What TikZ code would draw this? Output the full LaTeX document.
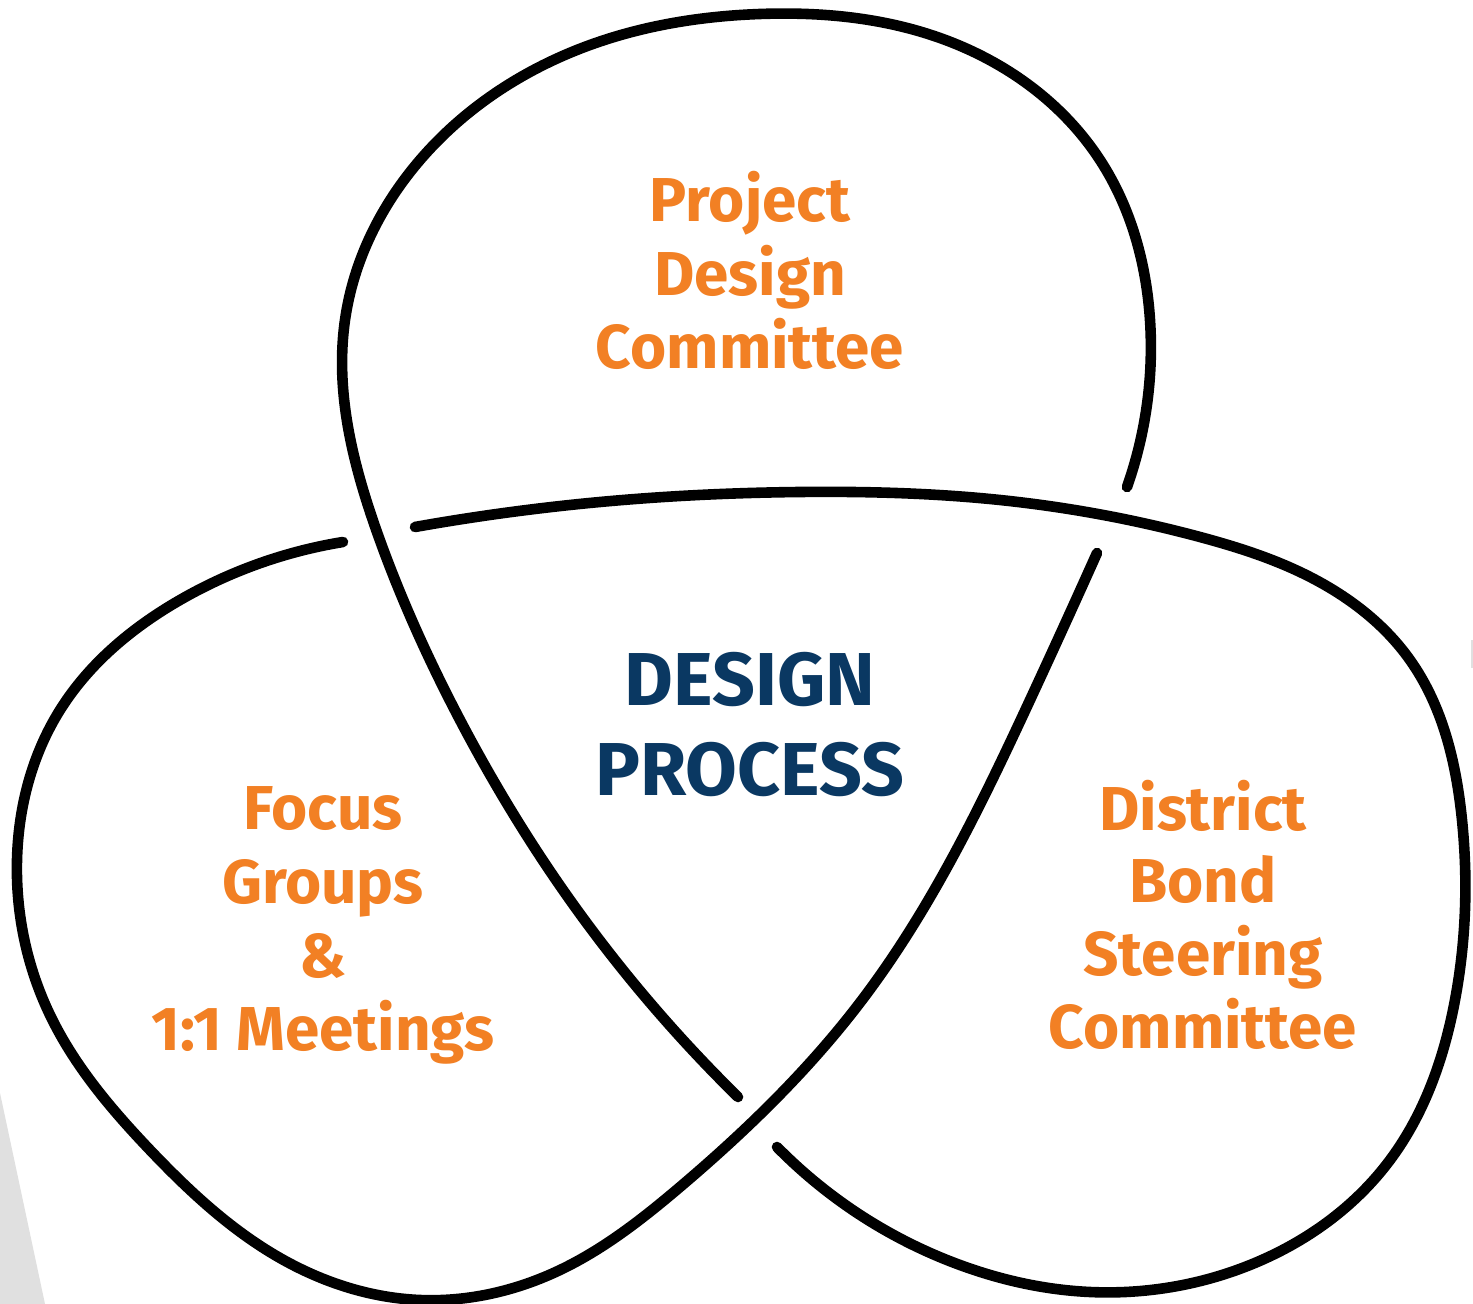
\documentclass[tikz,border=0pt]{standalone}
\usepackage{fontspec}
\usetikzlibrary{hobby}
\setmainfont{Fira Sans}
\definecolor{lobeorange}{RGB}{242,128,36}
\definecolor{corenavy}{RGB}{10,56,98}
\definecolor{wedgegrey}{RGB}{224,224,224}
\tikzset{
  knotline/.style={line width=5.3pt, line cap=round, black, use Hobby shortcut},
  lobetext/.style={text=lobeorange, font=\bfseries\fontsize{31}{37}\selectfont, inner sep=0pt, anchor=base},
  coretext/.style={text=corenavy, font=\bfseries\fontsize{37.5}{45}\selectfont, inner sep=0pt, anchor=base}
}
\begin{document}
\begin{tikzpicture}[x=0.5pt,y=-0.5pt]
\useasboundingbox (0,0) rectangle (1473,1304);
\fill[white] (0,0) rectangle (1473,1304);
\fill[wedgegrey] (0,1093) -- (45,1304) -- (0,1304) -- cycle;
\fill[wedgegrey] (1471,640) rectangle (1473,668);
% strand A: top lobe, over at left crossing
\draw[knotline] (1127,487) .. (1150,320) .. (1100,160) .. (940,38) .. (760,14)
 .. (590,45) .. (420,160) .. (345,320) .. (378,535) .. (460,720) .. (570,900) .. (738,1097);
% strand B: right lobe, over at right crossing
\draw[knotline] (777,1147) .. (960,1265) .. (1090,1292) .. (1250,1265) .. (1390,1160)
 .. (1455,1000) .. (1462,820) .. (1410,660) .. (1300,572) .. (1200,537) .. (1000,500)
 .. (800,492) .. (600,502) .. (415,527);
% strand C: left lobe, over at bottom crossing
\draw[knotline] (343,542) .. (180,600) .. (60,710) .. (17,860) .. (50,1015) .. (150,1150)
 .. (280,1258) .. (420,1300) .. (560,1270) .. (680,1187) .. (862,1000) .. (1030,700) .. (1097,553);
% texts
\node[lobetext] (p1) at (750,222) {Project};
\node[lobetext] (p2) at (750,296) {Design};
\node[lobetext] (p3) at (750,369) {Committee};
\node[coretext] (c1) at (750,705) {DESIGN};
\node[coretext] (c2) at (750,795) {PROCESS};
\node[lobetext] (f1) at (323,829) {Focus};
\node[lobetext] (f2) at (323,903) {Groups};
\node[lobetext] (f3) at (323,977) {\&};
\node[lobetext] (f4) at (323,1050) {1:1 Meetings};
\node[lobetext] (d1) at (1203,830) {District};
\node[lobetext] (d2) at (1203,902) {Bond};
\node[lobetext] (d3) at (1203,975) {Steering};
\node[lobetext] (d4) at (1203,1048) {Committee};
\end{tikzpicture}
\end{document}
